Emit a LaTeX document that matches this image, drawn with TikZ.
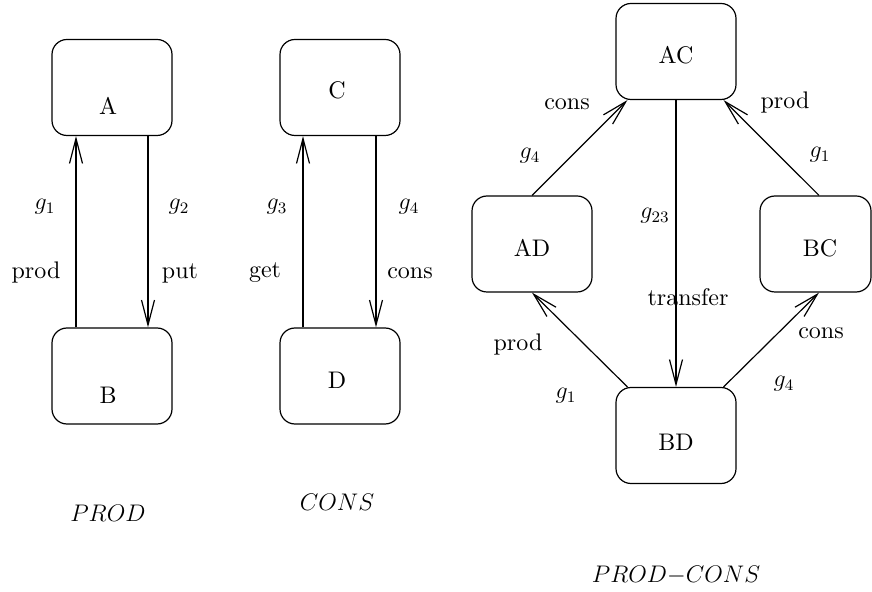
\documentclass[tikz,border=0pt]{standalone}
\usepackage{fontspec}
\setmainfont{lmroman10-regular.otf}[ItalicFont=lmroman10-italic.otf]
\usetikzlibrary{arrows.meta}
\begin{document}
\begin{tikzpicture}[x=0.5pt,y=-0.5pt,
  font=\fontsize{12}{14}\selectfont,
  state/.style={draw, line width=0.6pt, rounded corners=7.5pt,
    minimum width=60pt, minimum height=48pt, inner sep=0pt},
  arr/.style={line width=0.6pt, -{Straight Barb[length=12.5pt,width=6.5pt,line width=0.6pt]}},
  lab/.style={inner sep=0pt, anchor=center}]
\useasboundingbox (0,0) rectangle (872,592);

% PROD
\node[state, label={[name=tA, xshift=-2pt, yshift=-9pt]center:A}] (A) at (112,87.5) {};
\node[state, label={[name=tB, xshift=-2pt, yshift=-9.5pt]center:B}] (B) at (112,376) {};
\draw[arr] ([xshift=-18pt]B.north) -- ([xshift=-18pt]A.south);
\draw[arr] ([xshift=18pt]A.south) -- ([xshift=18pt]B.north);
\node[lab] (g1a) at (45,207) {$g_1$};
\node[lab] (prodA) at (36,273) {prod};
\node[lab] (g2) at (179,207) {$g_2$};
\node[lab] (put) at (180,273) {put};
\node[lab] (capP) at (108,513) {$PROD$};

% CONS
\node[state, label={[name=tC, xshift=-1.5pt, yshift=-1.5pt]center:C}] (C) at (340,87.5) {};
\node[state, label={[name=tD, xshift=-1.5pt, yshift=-2pt]center:D}] (D) at (340,376) {};
\draw[arr] ([xshift=-18.5pt]D.north) -- ([xshift=-18.5pt]C.south);
\draw[arr] ([xshift=18pt]C.south) -- ([xshift=18pt]D.north);
\node[lab] (g3) at (277,207) {$g_3$};
\node[lab] (get) at (265,273) {get};
\node[lab] (g4a) at (409,207) {$g_4$};
\node[lab] (consC) at (410,273) {cons};
\node[lab] (capC) at (337,502) {$CONS$};

% PROD-CONS
\node[state, label={[name=tAC, yshift=-1.8pt]center:AC}] (AC) at (676,51.5) {};
\node[state, label={[name=tAD, yshift=-2pt]center:AD}] (AD) at (532,244) {};
\node[state, minimum width=55.5pt, label={[name=tBC, xshift=2.25pt, yshift=-2pt]center:BC}] (BC) at (815.5,244) {};
\node[state, label={[name=tBD, yshift=-3.2pt]center:BD}] (BD) at (676,435.5) {};
\draw[arr] (AD.north) -- ([xshift=6pt]AC.south west);
\draw[arr] ([xshift=1.75pt]BC.north) -- ([xshift=-6.5pt]AC.south east);
\draw[arr] ([xshift=6pt]BD.north west) -- (AD.south);
\draw[arr] ([xshift=-6.5pt]BD.north east) -- ([xshift=1.75pt]BC.south);
\draw[arr] (AC.south) -- (BD.north);
\node[lab] (consAC) at (567,104) {cons};
\node[lab] (g4b) at (530,156) {$g_4$};
\node[lab] (prodAC) at (785,103) {prod};
\node[lab] (g1b) at (820,155) {$g_1$};
\node[lab] (g23) at (655,216) {$g_{23}$};
\node[lab] (transfer) at (688,297) {transfer};
\node[lab] (prodBD) at (518,345) {prod};
\node[lab] (g1c) at (566,396) {$g_1$};
\node[lab] (consBD) at (821,333) {cons};
\node[lab] (g4c) at (784,384) {$g_4$};
\node[lab] (capPC) at (676,575) {$PROD{-}CONS$};
\end{tikzpicture}
\end{document}
